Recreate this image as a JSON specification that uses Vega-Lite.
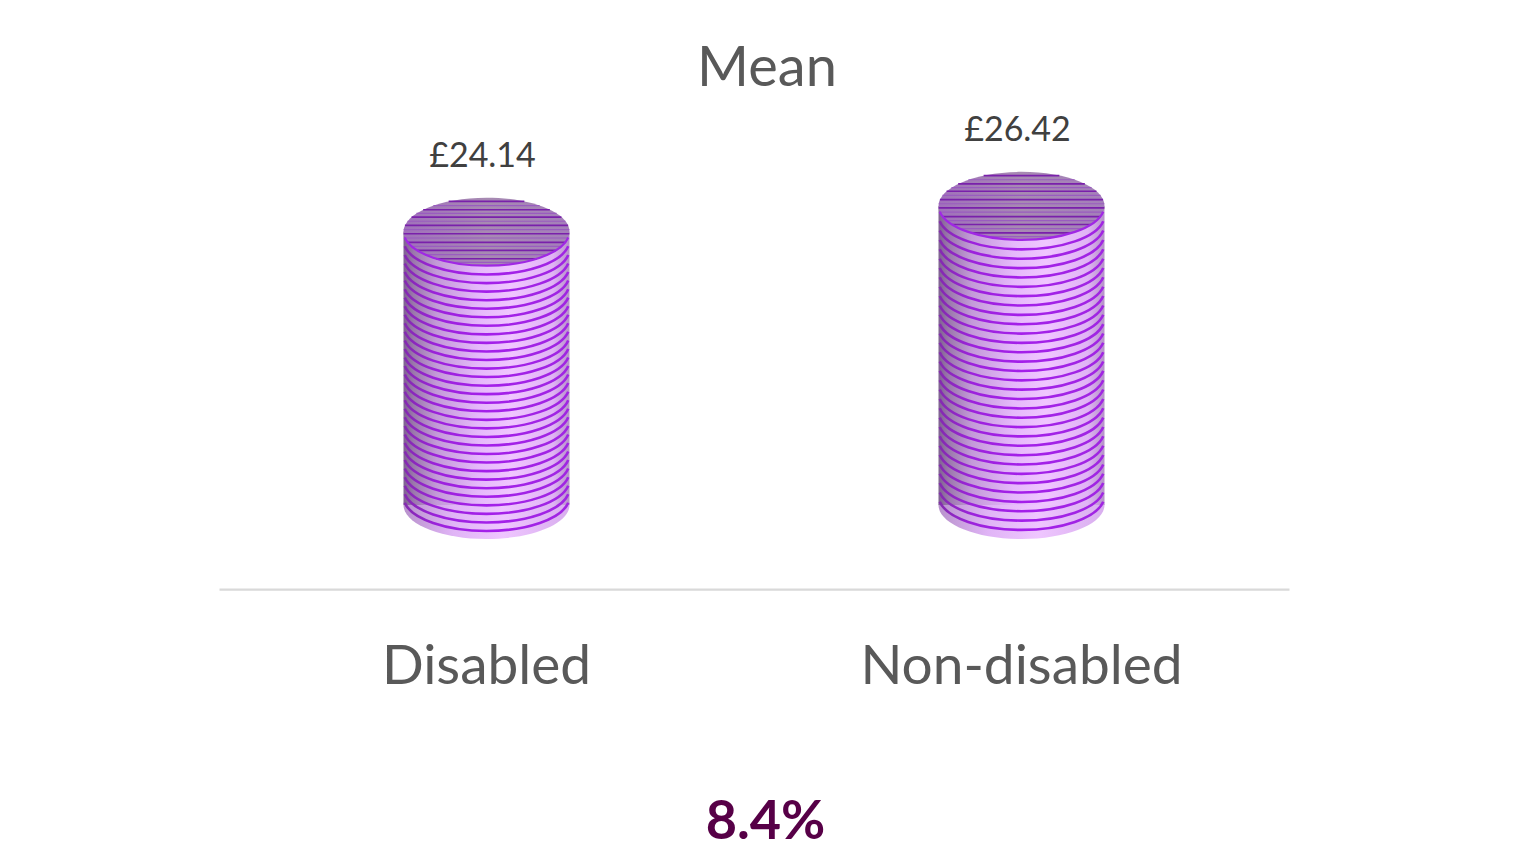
{
"$schema":"https://vega.github.io/schema/vega-lite/v6.json",
"width":1070,"height":479,
"autosize":{"type":"none"},
"padding":{"left":219,"top":110,"right":237,"bottom":255},
"background":"white",
"config":{"view":{"stroke":null}},
"title":{"text":"Mean","font":"Lato","fontSize":56,"fontWeight":"normal","color":"#595959","anchor":"middle","dx":13,"offset":12},
"datasets":{
"bars":[{"group":"Disabled","value":24.14,"label":"£24.14"},{"group":"Non-disabled","value":26.42,"label":"£26.42"}],
"stripes":[
{"group":"Disabled","level":0.71},{"group":"Disabled","level":1.46},{"group":"Disabled","level":2.22},{"group":"Disabled","level":2.97},{"group":"Disabled","level":3.73},{"group":"Disabled","level":4.48},{"group":"Disabled","level":5.24},{"group":"Disabled","level":5.99},{"group":"Disabled","level":6.75},{"group":"Disabled","level":7.50},{"group":"Disabled","level":8.26},{"group":"Disabled","level":9.01},{"group":"Disabled","level":9.77},{"group":"Disabled","level":10.52},{"group":"Disabled","level":11.28},{"group":"Disabled","level":12.03},{"group":"Disabled","level":12.79},{"group":"Disabled","level":13.54},{"group":"Disabled","level":14.30},{"group":"Disabled","level":15.05},{"group":"Disabled","level":15.81},{"group":"Disabled","level":16.56},{"group":"Disabled","level":17.32},{"group":"Disabled","level":18.07},{"group":"Disabled","level":18.83},{"group":"Disabled","level":19.58},{"group":"Disabled","level":20.34},{"group":"Disabled","level":21.09},{"group":"Disabled","level":21.85},{"group":"Disabled","level":22.60},{"group":"Disabled","level":23.36},
{"group":"Non-disabled","level":0.80},{"group":"Non-disabled","level":1.62},{"group":"Non-disabled","level":2.45},{"group":"Non-disabled","level":3.27},{"group":"Non-disabled","level":4.10},{"group":"Non-disabled","level":4.93},{"group":"Non-disabled","level":5.75},{"group":"Non-disabled","level":6.58},{"group":"Non-disabled","level":7.40},{"group":"Non-disabled","level":8.23},{"group":"Non-disabled","level":9.06},{"group":"Non-disabled","level":9.88},{"group":"Non-disabled","level":10.71},{"group":"Non-disabled","level":11.53},{"group":"Non-disabled","level":12.36},{"group":"Non-disabled","level":13.19},{"group":"Non-disabled","level":14.01},{"group":"Non-disabled","level":14.84},{"group":"Non-disabled","level":15.66},{"group":"Non-disabled","level":16.49},{"group":"Non-disabled","level":17.32},{"group":"Non-disabled","level":18.14},{"group":"Non-disabled","level":18.97},{"group":"Non-disabled","level":19.79},{"group":"Non-disabled","level":20.62},{"group":"Non-disabled","level":21.45},{"group":"Non-disabled","level":22.27},{"group":"Non-disabled","level":23.10},{"group":"Non-disabled","level":23.92},{"group":"Non-disabled","level":24.75},{"group":"Non-disabled","level":25.58}
]
},
"data":{"name":"bars"},
"encoding":{
"x":{"field":"group","type":"nominal","scale":{"type":"band","paddingInner":0,"paddingOuter":0},
"axis":{"labelAngle":0,"labelLimit":600,"ticks":false,"grid":false,"domainColor":"#d9d9d9","domainWidth":2.25,"labelFont":"Lato","labelFontSize":55,"labelColor":"#595959","labelPadding":77,"labelBaseline":"middle",
"title":"8.4%","titleFont":"Lato","titleFontSize":54,"titleFontWeight":"bold","titleColor":"#570047","titleX":546,"titleY":233,"titleBaseline":"middle","titleAnchor":"middle"}},
"y":{"field":"value","type":"quantitative","scale":{"domain":[-7.42,34.89],"nice":false,"zero":false},"axis":null}
},
"layer":[
{"mark":{"type":"point","filled":true,"opacity":1,"size":27556,"shape":"M-1,0A1,0.41 0 1 0 1,0A1,0.41 0 1 0 -1,0Z",
"fill":{"gradient":"linear","x1":0,"x2":1,"y1":0,"y2":0,"stops":[{"offset":0,"color":"#b892cc"},{"offset":0.3,"color":"#e0b4f6"},{"offset":0.6,"color":"#efc6ff"},{"offset":1,"color":"#d8aeee"}]}},
"encoding":{"y":{"datum":0}}},
{"mark":{"type":"bar","width":166,
"fill":{"gradient":"linear","x1":0,"x2":1,"y1":0,"y2":0,"stops":[{"offset":0,"color":"#7e6190"},{"offset":0.06,"color":"#9a78ab"},{"offset":0.2,"color":"#c39ad8"},{"offset":0.45,"color":"#e5b8fb"},{"offset":0.65,"color":"#f0c6ff"},{"offset":0.9,"color":"#e0b4f5"},{"offset":1,"color":"#b592c8"}]}},
"encoding":{"y2":{"datum":0}}},
{"data":{"name":"stripes"},
"mark":{"type":"point","filled":false,"opacity":1,"size":27556,"strokeWidth":2.6,"fill":"transparent","shape":"M-0.985,0.07A1,0.41 0 0 0 0.985,0.07",
"stroke":{"gradient":"linear","x1":0,"x2":1,"y1":0,"y2":0,"stops":[{"offset":0,"color":"#842ab0"},{"offset":0.2,"color":"#9c22dc"},{"offset":0.5,"color":"#a41fea"},{"offset":1,"color":"#a026e2"}]}},
"encoding":{"y":{"field":"level","type":"quantitative"}}},
{"mark":{"type":"point","filled":true,"opacity":1,"size":27556,"shape":"M-1,0A1,0.41 0 1 0 1,0A1,0.41 0 1 0 -1,0Z",
"fill":{"gradient":"linear","x1":0,"x2":1,"y1":0,"y2":0,"stops":[{"offset":0,"color":"#a071bb"},{"offset":0.5,"color":"#a78ab2"},{"offset":1,"color":"#a47fba"}]}}},
{"mark":{"type":"point","filled":false,"opacity":1,"size":27556,"strokeWidth":1.2,"stroke":"#9a5cc0","fill":"transparent",
"shape":"M-0.64,-0.315L0.64,-0.315M-0.844,-0.22L0.844,-0.22M-0.952,-0.126L0.952,-0.126M-0.998,-0.026L0.998,-0.026M-0.983,0.076L0.983,0.076M-0.902,0.177L0.902,0.177M-0.742,0.275L0.742,0.275M-0.431,0.37L0.431,0.37"}},
{"mark":{"type":"point","filled":false,"opacity":1,"size":27556,"strokeWidth":1.6,"stroke":"#7a20ab","fill":"transparent",
"shape":"M-0.456,-0.365L0.456,-0.365M-0.763,-0.265L0.763,-0.265M-0.903,-0.176L0.903,-0.176M-0.983,-0.076L0.983,-0.076M-0.998,0.024L0.998,0.024M-0.949,0.129L0.949,0.129M-0.836,0.225L0.836,0.225M-0.609,0.325L0.609,0.325"}},
{"mark":{"type":"point","filled":false,"opacity":1,"size":27556,"strokeWidth":2.2,"stroke":"#a028e4","fill":"transparent","shape":"M-0.985,0.07A1,0.41 0 0 0 0.985,0.07"}},
{"mark":{"type":"text","font":"Lato","fontSize":34,"color":"#404040","dx":-4,"dy":-74.5},
"encoding":{"text":{"field":"label","type":"nominal"}}}
]
}
